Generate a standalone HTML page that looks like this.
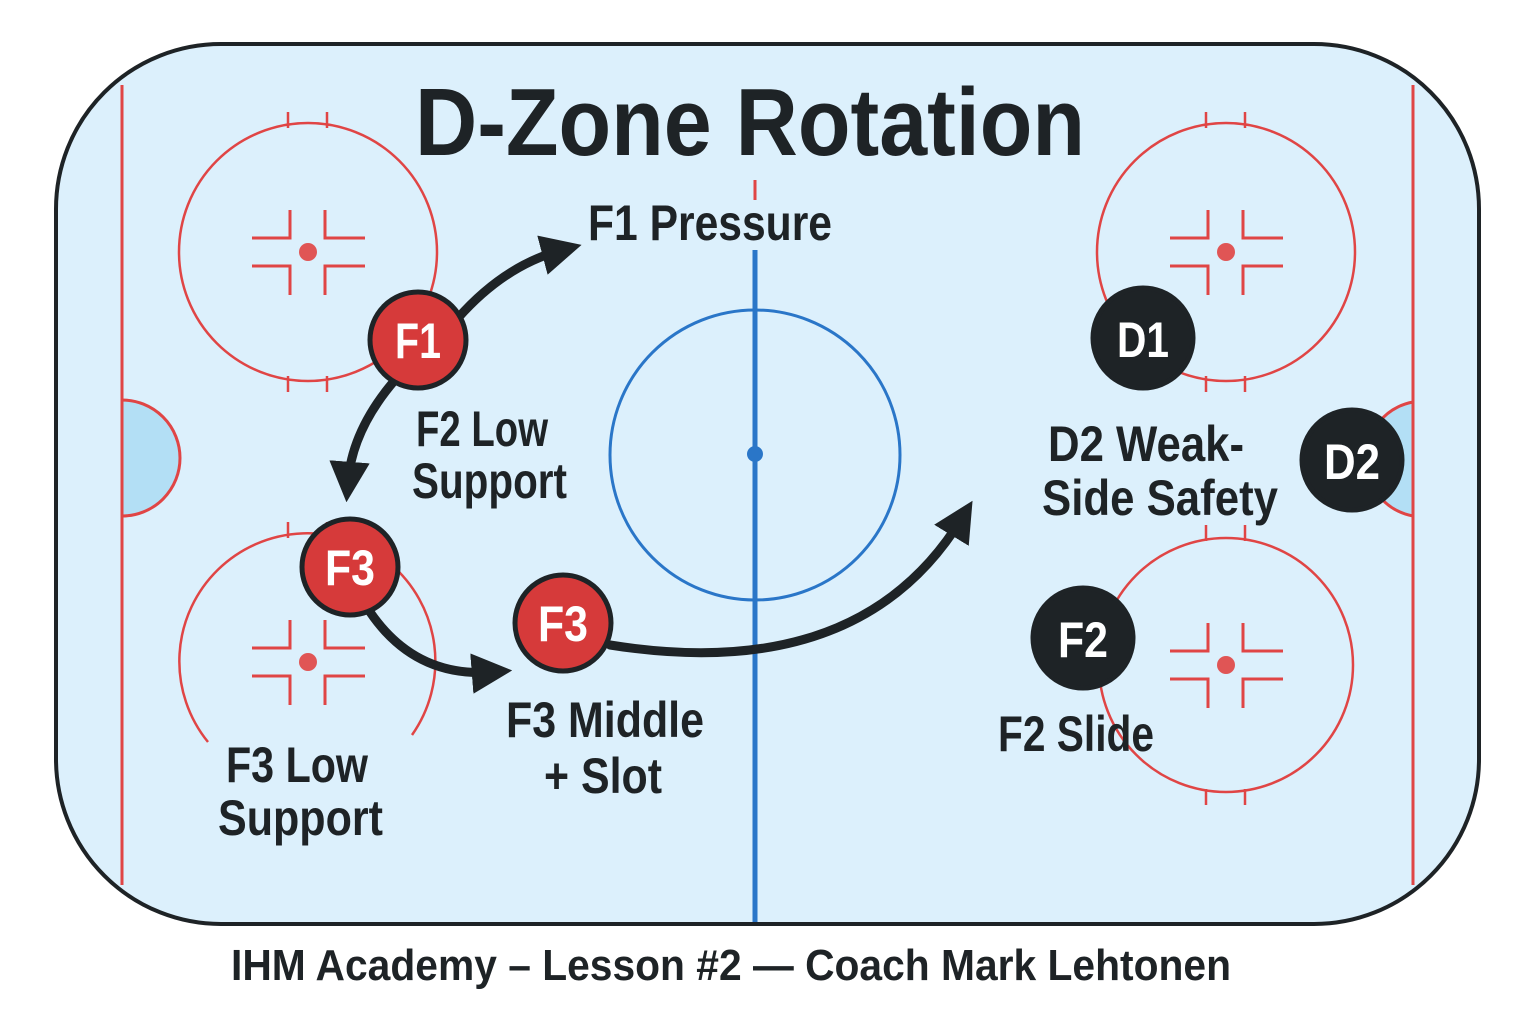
<!DOCTYPE html>
<html><head><meta charset="utf-8"><style>
html,body{margin:0;padding:0;background:#fff;}
svg{display:block;}
text{font-family:"Liberation Sans Narrow","Liberation Sans",sans-serif;font-weight:bold;fill:#1e2326;}
</style></head><body>
<svg width="1536" height="1024" viewBox="0 0 1536 1024" xmlns="http://www.w3.org/2000/svg">
<defs>
<g id="cr">
  <path d="M-18,-42 V-14 H-56 M17,-42 V-14 H57 M-18,43 V14 H-56 M17,43 V14 H57" fill="none" stroke="#e04545" stroke-width="3"/>
  <circle r="9" fill="#e05555"/>
  <line x1="-20" y1="-140" x2="-20" y2="-124" stroke="#e04545" stroke-width="2.5"/>
  <line x1="19" y1="-140" x2="19" y2="-124" stroke="#e04545" stroke-width="2.5"/>
</g>
<g id="fo">
  <use href="#cr"/>
  <line x1="-20" y1="140" x2="-20" y2="124" stroke="#e04545" stroke-width="2.5"/>
  <line x1="19" y1="140" x2="19" y2="124" stroke="#e04545" stroke-width="2.5"/>
</g>
<marker id="ah" viewBox="0 0 10 10" refX="5" refY="5" markerWidth="4.5" markerHeight="4.5" orient="auto">
  <path d="M0,0 L10,5 L0,10 Z" fill="#1e2326"/>
</marker>
</defs>
<rect x="56" y="44" width="1423" height="880" rx="165" ry="165" fill="#dcf0fc" stroke="#1e2326" stroke-width="4"/>
<line x1="122" y1="85" x2="122" y2="885" stroke="#e04545" stroke-width="3"/>
<line x1="1413" y1="85" x2="1413" y2="885" stroke="#e04545" stroke-width="3"/>
<path d="M122,400 A58,58 0 0 1 122,516 Z" fill="#b3dff5" stroke="#e04545" stroke-width="3"/>
<path d="M1413,402 A58,58 0 0 0 1413,516 Z" fill="#b3dff5" stroke="#e04545" stroke-width="3"/>
<line x1="755" y1="250" x2="755" y2="922" stroke="#2a76c8" stroke-width="5"/>
<line x1="755" y1="180" x2="755" y2="200" stroke="#e04545" stroke-width="3"/>
<circle cx="755" cy="455" r="145" fill="none" stroke="#2a76c8" stroke-width="3"/>
<circle cx="755" cy="454" r="8" fill="#2a76c8"/>
<circle cx="308" cy="252" r="129" fill="none" stroke="#e04545" stroke-width="2.5"/>
<use href="#fo" x="308" y="252"/>
<path d="M208,742 A128,128 0 1 1 412,735" fill="none" stroke="#e04545" stroke-width="2.5"/>
<use href="#cr" x="308" y="662"/>
<circle cx="1226" cy="252" r="129" fill="none" stroke="#e04545" stroke-width="2.5"/>
<use href="#fo" x="1226" y="252"/>
<circle cx="1226" cy="665" r="127" fill="none" stroke="#e04545" stroke-width="2.5"/>
<use href="#fo" x="1226" y="665"/>
<g fill="none" stroke="#1e2326" stroke-width="9" stroke-linecap="round">
<path d="M458,318 Q505,265 562,250" marker-end="url(#ah)"/>
<path d="M395,380 Q352,430 348,482" marker-end="url(#ah)"/>
<path d="M370,612 Q415,678 492,672" marker-end="url(#ah)"/>
<path d="M610,645 Q860,685 962,518" marker-end="url(#ah)"/>
</g>
<text x="750" y="155" font-size="96" text-anchor="middle" textLength="670" lengthAdjust="spacingAndGlyphs">D-Zone Rotation</text>
<text x="588" y="240" font-size="50" textLength="244" lengthAdjust="spacingAndGlyphs">F1 Pressure</text>
<text x="416" y="446" font-size="50" textLength="132" lengthAdjust="spacingAndGlyphs">F2 Low</text>
<text x="412" y="498" font-size="50" textLength="155" lengthAdjust="spacingAndGlyphs">Support</text>
<text x="226" y="782" font-size="50" textLength="142" lengthAdjust="spacingAndGlyphs">F3 Low</text>
<text x="218" y="835" font-size="50" textLength="165" lengthAdjust="spacingAndGlyphs">Support</text>
<text x="506" y="737" font-size="50" textLength="198" lengthAdjust="spacingAndGlyphs">F3 Middle</text>
<text x="544" y="793" font-size="50" textLength="118" lengthAdjust="spacingAndGlyphs">+ Slot</text>
<text x="1048" y="461" font-size="50" textLength="196" lengthAdjust="spacingAndGlyphs">D2 Weak-</text>
<text x="1042" y="515" font-size="50" textLength="236" lengthAdjust="spacingAndGlyphs">Side Safety</text>
<text x="998" y="751" font-size="50" textLength="156" lengthAdjust="spacingAndGlyphs">F2 Slide</text>
<text x="731" y="980" font-size="44" text-anchor="middle" textLength="1000" lengthAdjust="spacingAndGlyphs">IHM Academy – Lesson #2 — Coach Mark Lehtonen</text>
<g stroke="#1e2326" stroke-width="5">
<circle cx="418" cy="340" r="48" fill="#d63a3a"/>
<circle cx="350" cy="567" r="48" fill="#d63a3a"/>
<circle cx="563" cy="623" r="48" fill="#d63a3a"/>
<circle cx="1143" cy="338" r="50" fill="#1e2326"/>
<circle cx="1352" cy="460" r="50" fill="#1e2326"/>
<circle cx="1083" cy="638" r="50" fill="#1e2326"/>
</g>
<g font-size="50" text-anchor="middle">
<text x="418" y="358" style="fill:#fff" textLength="46" lengthAdjust="spacingAndGlyphs">F1</text>
<text x="350" y="585" style="fill:#fff" textLength="50" lengthAdjust="spacingAndGlyphs">F3</text>
<text x="563" y="641" style="fill:#fff" textLength="50" lengthAdjust="spacingAndGlyphs">F3</text>
<text x="1143" y="357" style="fill:#fff" textLength="52" lengthAdjust="spacingAndGlyphs">D1</text>
<text x="1352" y="479" style="fill:#fff" textLength="56" lengthAdjust="spacingAndGlyphs">D2</text>
<text x="1083" y="657" style="fill:#fff" textLength="50" lengthAdjust="spacingAndGlyphs">F2</text>
</g>
</svg>
</body></html>
